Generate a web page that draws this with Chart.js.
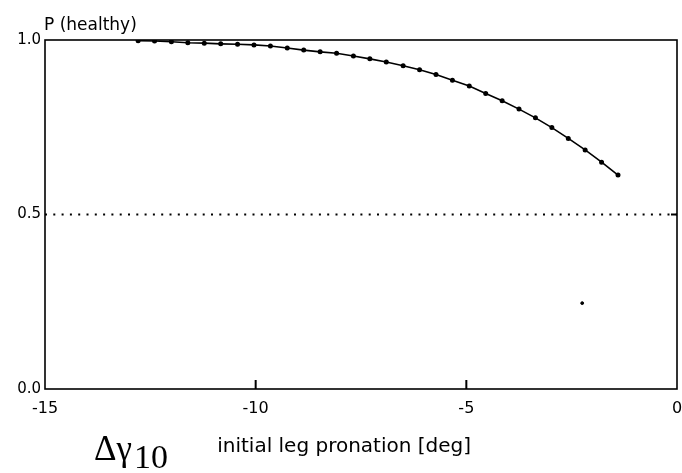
<!DOCTYPE html>
<html>
<head>
<meta charset="utf-8">
<script src="https://cdn.jsdelivr.net/npm/chart.js@4"></script>
<style>
  html, body { margin: 0; padding: 0; background: #fff; }
  #wrap { position: relative; width: 682px; height: 473px; }
  #delta {
    position: absolute; left: 94px; top: 433px;
    font-family: "Liberation Serif", "DejaVu Serif", serif;
    font-size: 35px; line-height: 32px; color: #000; white-space: nowrap;
  }
  #delta sub { font-size: 34px; vertical-align: -8px; line-height: 0; margin-left: 2px; }
</style>
</head>
<body>
<div id="wrap">
  <canvas id="probChart" width="682" height="473"></canvas>
  <div id="delta">&Delta;&gamma;<sub>10</sub></div>
</div>
<script>
// pronation angle [deg] and probability of "healthy"
const pronation = [-12.79, -12.40, -12.00, -11.61, -11.22, -10.83, -10.43, -10.04, -9.65, -9.25,
                   -8.86, -8.47, -8.08, -7.68, -7.29, -6.90, -6.50, -6.11, -5.72, -5.33,
                   -4.93, -4.54, -4.15, -3.75, -3.36, -2.97, -2.58, -2.18, -1.79, -1.40];
const pHealthy = [0.998, 0.997, 0.995, 0.992, 0.991, 0.989, 0.988, 0.986, 0.983, 0.977,
                  0.971, 0.966, 0.962, 0.954, 0.946, 0.937, 0.926, 0.915, 0.901, 0.885,
                  0.868, 0.847, 0.826, 0.802, 0.777, 0.749, 0.718, 0.685, 0.650, 0.613];
const thresholdX = [-15, 0];
const thresholdY = [0.5, 0.5];
const strayMark = [{ x: -2.25, y: 0.246 }];

const xTicks = [-15, -10, -5, 0];
const yTicks = [0, 0.5, 1];

const FONT = '"DejaVu Sans", Verdana, sans-serif';

// frame, inward ticks, y label on top, x label below
const framePlugin = {
    id: 'frame',
    afterDraw(chart) {
        const c = chart.ctx;
        const a = chart.chartArea;
        const xs = chart.scales.x, ys = chart.scales.y;
        c.save();
        c.setLineDash([]);
        c.strokeStyle = '#000';
        c.fillStyle = '#000';
        c.lineWidth = 1.6;
        c.strokeRect(a.left, a.top, a.right - a.left, a.bottom - a.top);

        // inner tick marks
        [-10, -5].forEach(v => {
            const px = xs.getPixelForValue(v);
            c.fillRect(px - 1, a.bottom - 9, 2, 9);
        });
        [0.5].forEach(v => {
            const py = ys.getPixelForValue(v);
            c.fillRect(a.right - 6, py - 1, 6, 2);
        });

        c.textBaseline = 'alphabetic';
        c.textAlign = 'left';
        c.font = '17px ' + FONT;
        c.fillText('P (healthy)', a.left - 1, a.top - 10);

        c.textAlign = 'center';
        c.textBaseline = 'middle';
        c.font = '20px ' + FONT;
        c.fillText('initial leg pronation [deg]', xs.getPixelForValue(-7.9), 447);
        c.restore();
    }
};

const ctx = document.getElementById('probChart');

new Chart(ctx, {
    type: 'scatter',
    data: {
        datasets: [{
            label: 'P (healthy)',
            data: pronation.map((x, i) => ({ x: x, y: pHealthy[i] })),
            showLine: true,
            borderColor: '#000',
            backgroundColor: '#000',
            borderWidth: 1.6,
            pointRadius: 1.7,
            pointHoverRadius: 1.7,
            tension: 0
        }, {
            label: 'threshold',
            data: thresholdX.map((x, i) => ({ x: x, y: thresholdY[i] })),
            showLine: true,
            borderColor: '#000',
            borderWidth: 2,
            borderDash: [2, 6.3],
            pointRadius: 0
        }, {
            label: 'mark',
            data: strayMark,
            backgroundColor: '#000',
            borderColor: '#000',
            pointRadius: 1.4
        }]
    },
    options: {
        responsive: false,
        animation: false,
        layout: { padding: { top: 40, right: 4, left: 0, bottom: 0 } },
        plugins: {
            legend: { display: false },
            tooltip: { enabled: false }
        },
        scales: {
            x: {
                type: 'linear',
                min: -15,
                max: 0,
                afterFit: s => { s.height = 84; s.paddingLeft = 0; s.paddingRight = 0; },
                afterBuildTicks: s => { s.ticks = xTicks.map(v => ({ value: v })); },
                grid: { display: false, drawTicks: false },
                border: { display: false },
                ticks: {
                    color: '#000',
                    font: { family: FONT, size: 16 },
                    padding: 10,
                    maxRotation: 0,
                    callback: v => (v < 0 ? '-' + Math.abs(v) : String(v))
                }
            },
            y: {
                type: 'linear',
                min: 0,
                max: 1,
                afterFit: s => { s.width = 45; },
                afterBuildTicks: s => { s.ticks = yTicks.map(v => ({ value: v })); },
                grid: { display: false, drawTicks: false },
                border: { display: false },
                ticks: {
                    color: '#000',
                    font: { family: FONT, size: 15 },
                    padding: 4,
                    callback: v => v.toFixed(1)
                }
            }
        }
    },
    plugins: [framePlugin]
});
</script>
</body>
</html>
